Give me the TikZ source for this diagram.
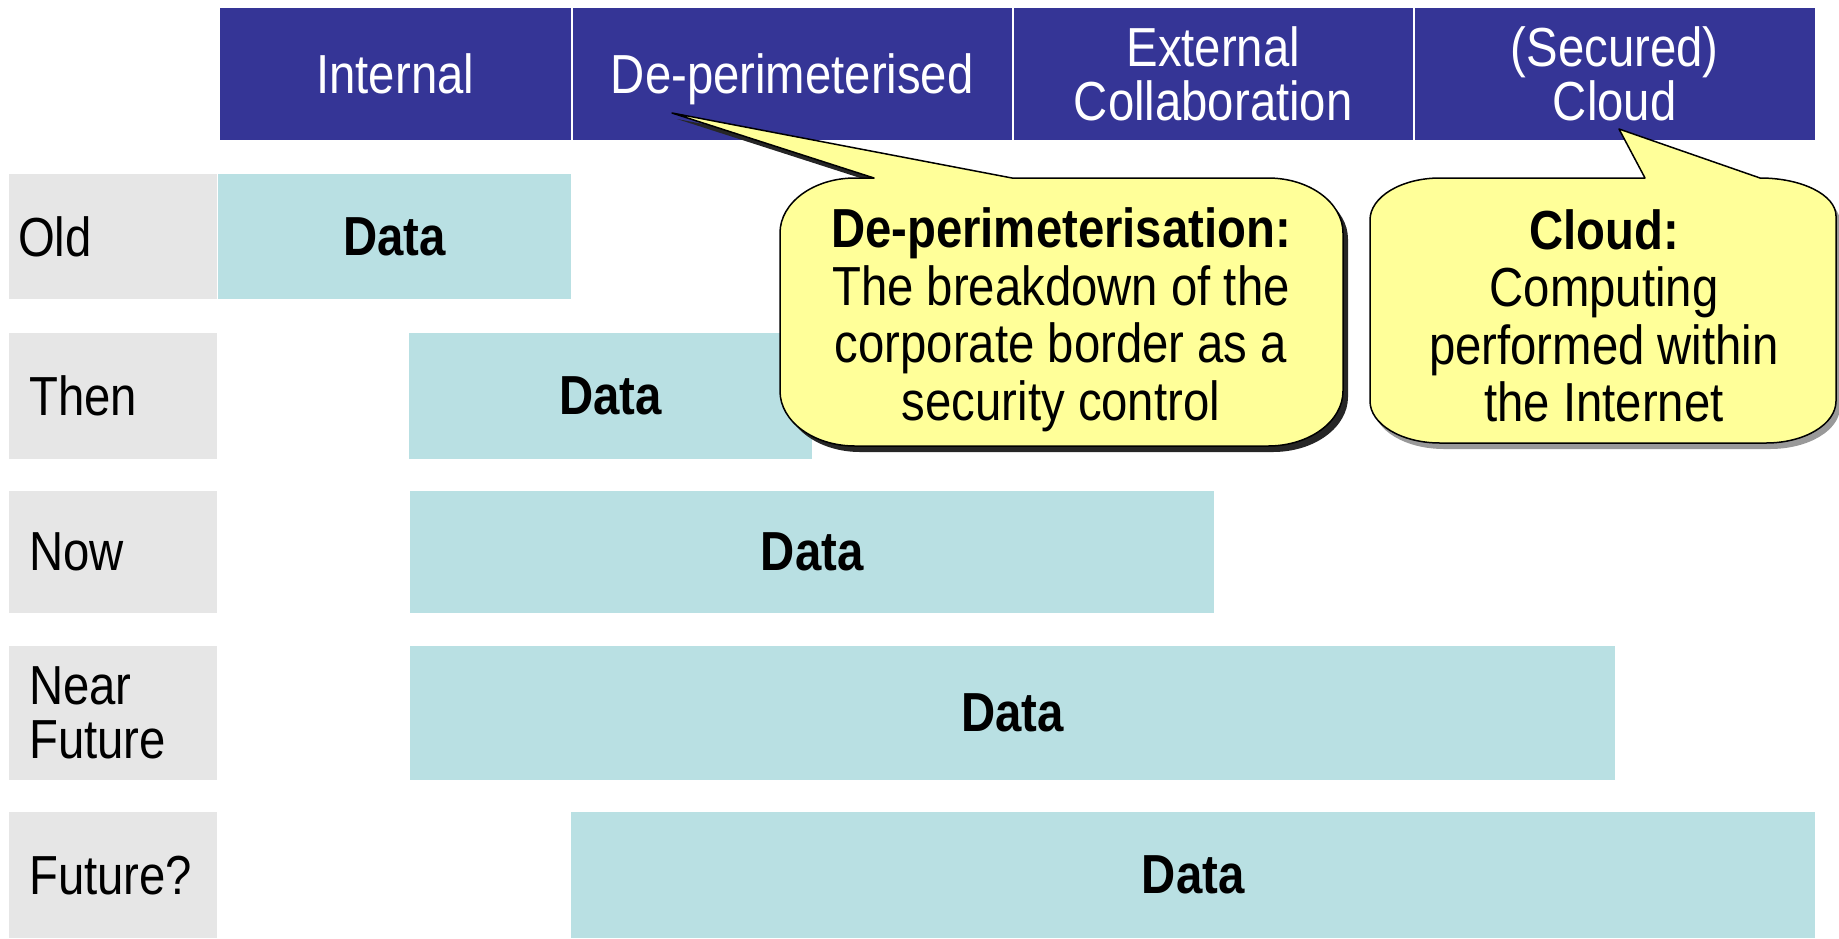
\documentclass[tikz,border=0pt]{standalone}
\usepackage{fontspec}
\setmainfont[FakeStretch=0.86]{Liberation Sans}
\definecolor{hdrblue}{RGB}{53,53,150}
\definecolor{lgray}{RGB}{230,230,230}
\definecolor{databar}{RGB}{185,224,227}
\definecolor{callyel}{RGB}{255,255,153}
\newcommand\pathCallA{(874,-178) -- (672,-113) -- (1012,-178) -- (1268,-178) arc[start angle=90,end angle=0,x radius=75,y radius=55] -- (1343,-391) arc[start angle=0,end angle=-90,x radius=75,y radius=55] -- (855,-446) arc[start angle=-90,end angle=-180,x radius=75,y radius=55] -- (780,-233) arc[start angle=180,end angle=90,x radius=75,y radius=55] -- cycle}
\newcommand\pathCallB{(1645,-178) -- (1619,-129) -- (1760,-178) arc[start angle=90,end angle=0,x radius=76,y radius=38] -- (1836,-401) arc[start angle=0,end angle=-90,x radius=70,y radius=42] -- (1440,-443) arc[start angle=-90,end angle=-180,x radius=70,y radius=42] -- (1370,-220) arc[start angle=180,end angle=90,x radius=70,y radius=42] -- cycle}
\begin{document}
\begin{tikzpicture}[x=1pt,y=1pt,
  bigfont/.style={font=\fontsize{55}{54}\selectfont},
  hdrcell/.style={fill=hdrblue, draw=white, line width=1.5pt, text=white, anchor=north west, inner sep=0pt, align=center, bigfont, minimum height=134pt},
  lblcell/.style={fill=lgray, anchor=north west, inner ysep=0pt, inner xsep=20pt, text width=168pt, minimum height=#1, align=left, font=\fontsize{55}{54}\selectfont},
  databox/.style={fill=databar, anchor=north west, inner sep=0pt, font=\fontsize{55}{54}\selectfont\bfseries},
  calltext/.style={align=center, inner sep=0pt, font=\fontsize{55}{57.5}\selectfont},
]
\useasboundingbox (0,0) rectangle (1839,-938);

% header
\node[hdrcell, minimum width=353pt] (hInt) at (218,-6) {Internal};
\node[hdrcell, minimum width=441pt, text depth=0pt] (hDep) at (571,-6) {De-perimeterised};
\node[hdrcell, minimum width=401pt] (hExt) at (1012,-6) {External\\Collaboration};
\node[hdrcell, minimum width=402pt] (hCld) at (1413,-6) {(Secured)\\Cloud};

% row labels
\node[lblcell=125pt, inner xsep=9pt, text width=190pt] (rOld) at (9,-174) {Old};
\node[lblcell=126pt] (rThen) at (9,-333) {Then};
\node[lblcell=122pt] (rNow) at (9,-491) {Now};
\node[lblcell=134pt] (rNear) at (9,-646) {Near\\Future};
\node[lblcell=126pt] (rFut) at (9,-812) {Future?};

% data bars
\node[databox, minimum width=353pt, minimum height=125pt] (dOld) at (218,-174) {Data};
\node[databox, minimum width=403pt, minimum height=126pt] (dThen) at (409,-333) {Data};
\node[databox, minimum width=804pt, minimum height=122pt] (dNow) at (410,-491) {Data};
\node[databox, minimum width=1205pt, minimum height=134pt] (dNear) at (410,-646) {Data};
\node[databox, minimum width=1244pt, minimum height=126pt] (dFut) at (571,-812) {Data};

% callout 1
\fill[black!85, shift={(5pt,-6pt)}] \pathCallA;
\draw[fill=callyel, line width=1.5pt, line join=round] \pathCallA;
\node[calltext] (cA) at (1061,-320) {\textbf{De-perimeterisation:}\\The breakdown of the\\corporate border as a\\security control};

% callout 2
\fill[black!40, shift={(4pt,-6pt)}] \pathCallB;
\draw[fill=callyel, line width=1.5pt, line join=round] \pathCallB;
\node[calltext] (cB) at (1604,-316) {\textbf{Cloud:}\\Computing\\performed within\\the Internet};
\end{tikzpicture}
\end{document}
